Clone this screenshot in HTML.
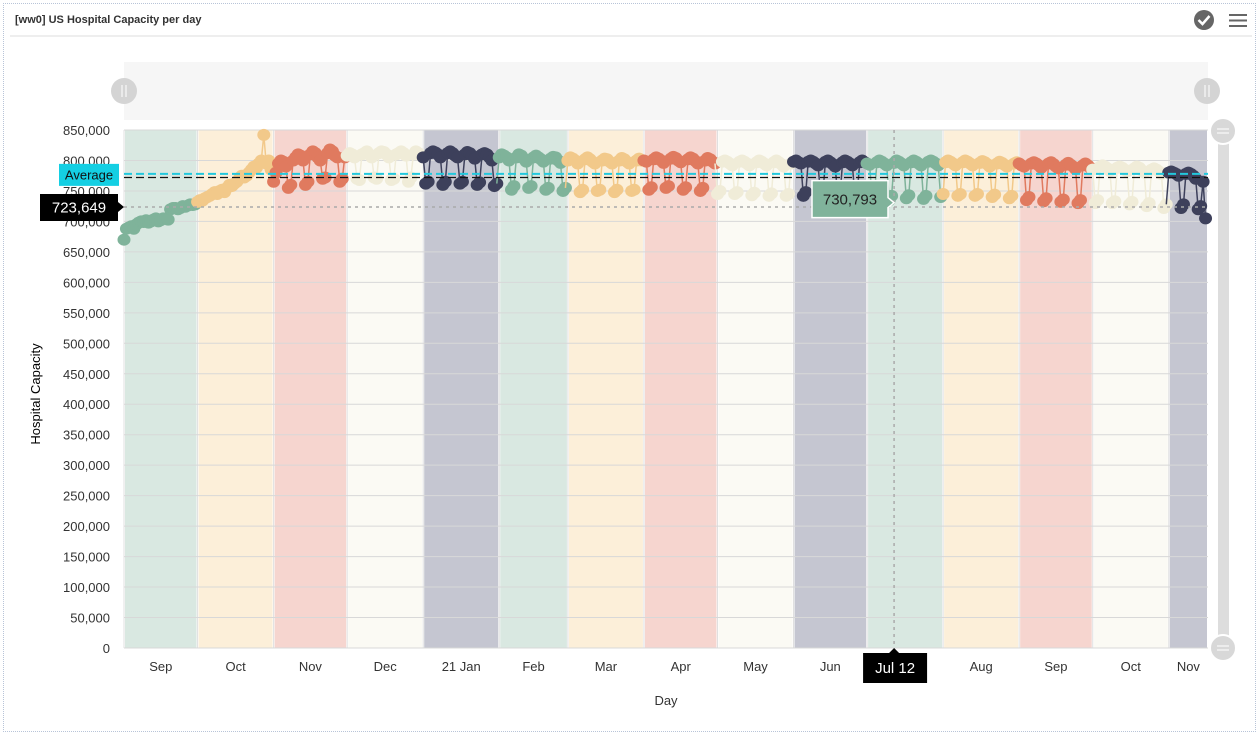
<!DOCTYPE html>
<html><head><meta charset="utf-8">
<style>
body{margin:0;background:#fff;width:1259px;height:737px;overflow:hidden;font-family:"Liberation Sans",sans-serif;}
#card{position:absolute;left:3px;top:3px;width:1251px;height:727px;border:1px dotted #b8c4d8;}
</style></head>
<body>
<div id="card"></div>
<svg id="chart" width="1259" height="737" style="position:absolute;left:0;top:0">
  <text x="15" y="23" font-size="11" font-weight="bold" fill="#333">[ww0] US Hospital Capacity per day</text>
  <line x1="10" y1="36" x2="1252" y2="36" stroke="#ddd"/>
  <g>
    <circle cx="1204" cy="20" r="10" fill="#666"/>
    <path d="M1198.5 20 l4 4 l7 -8" stroke="#fff" stroke-width="2.5" fill="none"/>
  </g>
  <g stroke="#666" stroke-width="2">
    <line x1="1229" y1="15" x2="1247" y2="15"/><line x1="1229" y1="20.5" x2="1247" y2="20.5"/><line x1="1229" y1="26" x2="1247" y2="26"/>
  </g>
  <rect x="124" y="62" width="1084" height="58" fill="#f6f6f6"/>
  <g><circle cx="124" cy="91" r="13" fill="#d4d4d4"/><line x1="122" y1="85" x2="122" y2="97" stroke="#fff"/><line x1="126" y1="85" x2="126" y2="97" stroke="#fff"/></g>
  <g><circle cx="1207" cy="91" r="13" fill="#d4d4d4"/><line x1="1205" y1="85" x2="1205" y2="97" stroke="#fff"/><line x1="1209" y1="85" x2="1209" y2="97" stroke="#fff"/></g>
  <rect x="1218" y="132" width="11" height="516" rx="5" fill="#ddd"/>
  <g><circle cx="1223" cy="131" r="13" fill="#d8d8d8" stroke="#fff" stroke-width="2"/><line x1="1217" y1="129" x2="1229" y2="129" stroke="#fff"/><line x1="1217" y1="133" x2="1229" y2="133" stroke="#fff"/></g>
  <g><circle cx="1223" cy="648" r="13" fill="#d8d8d8" stroke="#fff" stroke-width="2"/><line x1="1217" y1="646" x2="1229" y2="646" stroke="#fff"/><line x1="1217" y1="650" x2="1229" y2="650" stroke="#fff"/></g>
  <g id="bands"></g><g id="grid"></g><g id="series"></g><g id="overlay"></g>
  <text x="35" y="389" font-size="13" fill="#000" text-anchor="middle" transform="rotate(-90 40 389)">Hospital Capacity</text>
  <text x="666" y="705" font-size="13" fill="#333" text-anchor="middle">Day</text>
</svg>
<script>
const monthLabels=["Sep","Oct","Nov","Dec","21 Jan","Feb","Mar","Apr","May","Jun","Jul","Aug","Sep","Oct","Nov"];
const monthDays=[30,31,30,31,31,28,31,30,31,30,31,31,30,31,16];
const yTicks=[0,50000,100000,150000,200000,250000,300000,350000,400000,450000,500000,550000,600000,650000,700000,750000,800000,850000];
const capacityK=[
670,688,690,692,688,695,698,700,699,702,698,700,703,705,700,702,705,705,703,720,722,722,720,722,725,724,726,728,727,728,
732,735,734,738,740,742,745,748,745,750,752,748,755,760,758,762,765,770,775,772,775,780,785,790,788,795,800,842,795,800,785,
765,780,795,800,798,790,755,760,800,805,810,808,800,760,765,810,815,812,805,800,770,772,812,818,815,808,805,765,770,805,
808,812,810,805,770,768,810,812,815,810,805,772,770,812,815,814,810,805,768,770,810,812,815,812,808,765,772,810,815,812,808,
805,762,765,812,815,813,810,805,760,765,812,815,812,808,805,762,765,810,814,812,808,803,760,764,810,812,810,805,800,758,762,
805,810,808,805,800,752,758,805,810,808,803,798,755,758,805,808,805,802,798,752,755,803,806,805,800,796,750,755,
800,805,803,800,795,748,752,802,805,802,798,795,750,752,800,803,802,798,795,748,752,800,804,802,798,795,750,752,800,803,800,
800,798,752,756,802,805,803,800,796,755,758,803,806,804,800,797,752,756,802,805,803,799,795,750,755,800,804,802,798,795,
745,750,798,800,798,795,792,745,748,798,800,798,795,792,743,747,797,800,798,795,792,742,746,797,800,797,794,790,742,745,795,
798,800,797,795,742,748,798,800,798,795,792,745,748,798,800,797,794,790,742,746,797,800,798,795,792,743,747,797,800,797,
795,793,740,745,797,800,798,795,792,735,742,796,800,798,795,792,738,743,797,800,798,795,792,737,742,798,800,798,795,792,740,
745,797,800,798,795,792,742,745,797,800,798,795,792,742,745,796,799,797,794,790,740,744,795,798,796,793,790,738,742,795,797,
795,792,790,735,740,795,797,795,792,788,733,738,795,797,794,790,787,732,736,793,796,793,790,786,730,735,792,795,792,788,
785,730,735,790,792,790,787,783,730,733,788,790,788,785,782,728,732,787,790,788,784,780,725,730,785,787,785,782,778,722,728,
780,782,780,778,775,722,728,778,780,778,775,770,720,725,765,705];
const refValue=723649, hoverValue=730793, hoverLabel="Jul 12", hoverDay=314, avgPlotLine=778000, meanLine=772000;
const seriesColors=["#7fb39a","#f2c98a","#e07a5f","#f0ecd8","#3d405b"];
const bandColors=["#d9e8e1","#fcefd9","#f6d5cf","#fbfaf4","#c5c6d1"];

const X0=124,X1=1208,Y0=648,Y1=130,totalDays=442,yMax=850000;
const NS="http://www.w3.org/2000/svg";
function xS(d){return X0+d*(X1-X0)/totalDays;}
function yS(v){return Y0-v*(Y0-Y1)/yMax;}
function mk(t,a,p){const e=document.createElementNS(NS,t);for(const k in a)e.setAttribute(k,a[k]);p.appendChild(e);return e;}
const bands=document.getElementById('bands'),grid=document.getElementById('grid'),ser=document.getElementById('series'),ov=document.getElementById('overlay');
let start=0;
monthDays.forEach((n,i)=>{
  const r=mk('rect',{x:xS(start)+1,y:Y1,width:Math.max(0,xS(start+n)-xS(start)-2),height:Y0-Y1,fill:bandColors[i%5]},bands);
  
  
  const vl=mk('line',{x1:xS(start),x2:xS(start),y1:Y1,y2:Y0,stroke:'#e0e0e0'},grid);
  
  
  if(i!==10){
    const t=mk('text',{x:Math.min(xS(start+n/2),1207),y:671,'font-size':13,fill:'#333','text-anchor':'middle'},grid);
    t.textContent=monthLabels[i];
    
    
  }
  start+=n;
});
yTicks.forEach(v=>{
  const l=mk('line',{x1:X0,x2:X1,y1:yS(v),y2:yS(v),stroke:'#d8d8d8'},grid);
  
  
  const t=mk('text',{x:110,y:yS(v)+5,'font-size':13,fill:'#333','text-anchor':'end'},grid);
  t.textContent=v.toLocaleString('en-US');
  
  
});
start=0;
monthDays.forEach((n,i)=>{
  const c=seriesColors[i%5];
  const g=mk('g',{},ser);
  
  
  let pts=[];
  for(let d=Math.max(0,start-1);d<start+n&&d<capacityK.length;d++)pts.push(xS(d).toFixed(1)+','+yS(capacityK[d]*1000).toFixed(1));
  mk('polyline',{points:pts.join(' '),fill:'none',stroke:c,'stroke-width':1.5},g);
  for(let d=start;d<start+n&&d<capacityK.length;d++){
    const p=mk('ellipse',{cx:xS(d),cy:yS(capacityK[d]*1000),rx:6.5,ry:6,fill:c},g);
    
    
  }
  start+=n;
});
let e;
e=mk('line',{x1:X0,x2:X1,y1:yS(avgPlotLine),y2:yS(avgPlotLine),stroke:'#22c8dd','stroke-width':2,'stroke-dasharray':'8,4'},ov);


e=mk('line',{x1:X0,x2:X1,y1:yS(meanLine),y2:yS(meanLine),stroke:'#111','stroke-width':1.3,'stroke-dasharray':'8,4'},ov);


e=mk('line',{x1:X0,x2:X1,y1:yS(refValue),y2:yS(refValue),stroke:'#aaa','stroke-width':1.5,'stroke-dasharray':'3,4'},ov);


e=mk('line',{x1:xS(hoverDay),x2:xS(hoverDay),y1:Y1,y2:Y0,stroke:'#aaa','stroke-width':1.5,'stroke-dasharray':'3,4'},ov);


let ay=yS(avgPlotLine)+1;
e=mk('g',{},ov);


mk('rect',{x:59,y:ay-11,width:60,height:22,fill:'#14cfe3'},e);
let t=mk('text',{x:89,y:ay+4.5,'font-size':13,fill:'#111','text-anchor':'middle'},e);t.textContent='Average';
let ry=yS(refValue);
e=mk('g',{},ov);


mk('path',{d:`M40 ${ry-13} H118 V${ry-5} L124 ${ry} L118 ${ry+5} V${ry+14} H40 Z`,fill:'#000'},e);
t=mk('text',{x:79,y:ry+5.5,'font-size':15,fill:'#fff','text-anchor':'middle'},e);t.textContent=refValue.toLocaleString('en-US');
let hx=xS(hoverDay), hy=yS(hoverValue);
e=mk('g',{},ov);


mk('path',{d:`M812 ${hy-22} H888 V${hy-5} L894 ${hy} L888 ${hy+5} V${hy+15} H812 Z`,fill:'#80b39b',stroke:'#fff','stroke-width':1.5},e);
t=mk('text',{x:850,y:hy+2,'font-size':15,fill:'#222','text-anchor':'middle'},e);t.textContent=hoverValue.toLocaleString('en-US');
e=mk('g',{},ov);


mk('path',{d:`M${hx-31} 653 H${hx-5} L${hx} 648 L${hx+5} 653 H${hx+33} V683 H${hx-31} Z`,fill:'#000'},e);
t=mk('text',{x:hx+1,y:673,'font-size':15,fill:'#fff','text-anchor':'middle'},e);t.textContent=hoverLabel;
</script>
</body></html>
